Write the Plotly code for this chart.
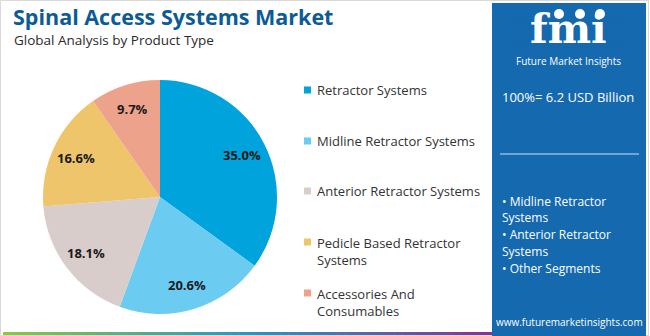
import math
import plotly.graph_objects as go

# Market share by product type (%)
segments = [
    "Retractor Systems",
    "Midline Retractor Systems",
    "Anterior Retractor Systems",
    "Pedicle Based Retractor Systems",
    "Accessories And Consumables",
]
legend_lines = [
    "Retractor Systems",
    "Midline Retractor Systems",
    "Anterior Retractor Systems",
    "Pedicle Based Retractor<br>Systems",
    "Accessories And<br>Consumables",
]
shares = [35.0, 20.6, 18.1, 16.6, 9.7]
colors = ["#00a3dc", "#6ccbf0", "#d8cdca", "#eec56b", "#eca28b"]

title = "Spinal Access Systems Market"
subtitle = "Global Analysis by Product Type"
total_text = "100%= 6.2 USD Billion"
side_lines = ["• Midline Retractor", "Systems", "• Anterior Retractor", "Systems", "• Other Segments"]
website = "www.futuremarketinsights.com"

W, H = 650, 336
FONT = "Open Sans"

# pie geometry in pixels
PIE_CX, PIE_CY, PIE_R = 160, 197, 117
LABEL_R = 0.79 * PIE_R


def fx(p):
    return p / W


def fy(p):
    return 1 - p / H


fig = go.Figure()

fig.add_trace(go.Pie(
    labels=segments,
    values=shares,
    sort=False,
    direction="clockwise",
    rotation=0,
    marker=dict(colors=colors, line=dict(width=0)),
    textinfo="none",
    domain=dict(x=[fx(PIE_CX - PIE_R), fx(PIE_CX + PIE_R)],
                y=[fy(PIE_CY + PIE_R), fy(PIE_CY - PIE_R)]),
    showlegend=False,
    hoverinfo="label+value",
))

shapes = []
annotations = []

# percentage labels placed at each slice's mid-angle
total = sum(shares)
cum = 0.0
for v in shares:
    mid = (cum + v / 2) / total * 2 * math.pi
    cum += v
    lx = PIE_CX + LABEL_R * math.sin(mid)
    ly = PIE_CY - LABEL_R * math.cos(mid)
    annotations.append(dict(text="<b>%.1f%%</b>" % v, xref="paper", yref="paper",
                            x=fx(lx), y=fy(ly), xanchor="center", yanchor="middle",
                            showarrow=False,
                            font=dict(family=FONT, size=13, color="#1a1a1a")))

# outer frame
shapes.append(dict(type="rect", xref="paper", yref="paper",
                   x0=fx(0.5), x1=fx(648.5), y0=fy(335.5), y1=fy(0.5),
                   line=dict(color="#d9d9d9", width=1), fillcolor="rgba(0,0,0,0)", layer="below"))

# bottom gradient strip (green -> blue -> purple)
stops = [(0.0, (141, 198, 63)), (0.5, (40, 150, 200)), (1.0, (140, 50, 150))]
n = 60
x_start, x_end = 3, 492
for i in range(n):
    t = i / (n - 1)
    for (t0, c0), (t1, c1) in zip(stops[:-1], stops[1:]):
        if t0 <= t <= t1:
            u = (t - t0) / (t1 - t0)
            c = tuple(int(c0[k] + (c1[k] - c0[k]) * u) for k in range(3))
            break
    xa = x_start + (x_end - x_start) * i / n
    xb = x_start + (x_end - x_start) * (i + 1) / n + 0.5
    shapes.append(dict(type="rect", xref="paper", yref="paper",
                       x0=fx(xa), x1=fx(xb), y0=fy(335), y1=fy(332),
                       line=dict(width=0), fillcolor="rgb(%d,%d,%d)" % c))

# right info panel
shapes.append(dict(type="rect", xref="paper", yref="paper",
                   x0=fx(492), x1=fx(646), y0=fy(336), y1=fy(3),
                   line=dict(width=0), fillcolor="#1569ae"))
shapes.append(dict(type="line", xref="paper", yref="paper",
                   x0=fx(500), x1=fx(639), y0=fy(154), y1=fy(154),
                   line=dict(color="#8fb8dc", width=1.5)))

# title and subtitle
annotations.append(dict(text="<b>" + title + "</b>", xref="paper", yref="paper",
                        x=fx(11), y=fy(16), xanchor="left", yanchor="middle", showarrow=False,
                        font=dict(family=FONT, size=21.5, color="#0c5b96")))
annotations.append(dict(text=subtitle, xref="paper", yref="paper",
                        x=fx(12), y=fy(40), xanchor="left", yanchor="middle", showarrow=False,
                        font=dict(family=FONT, size=13.5, color="#2b2b2b")))

# legend
legend_y = [90, 141, 191, 251, 302]
for name, col, yy in zip(legend_lines, colors, legend_y):
    my = yy if "<br>" not in name else yy - 9
    shapes.append(dict(type="rect", xref="paper", yref="paper",
                       x0=fx(304), x1=fx(311), y0=fy(my + 3.5), y1=fy(my - 3.5),
                       line=dict(width=0), fillcolor=col))
    annotations.append(dict(text=name, xref="paper", yref="paper",
                            x=fx(315), y=fy(yy), xanchor="left", yanchor="middle", align="left",
                            showarrow=False,
                            font=dict(family=FONT, size=13, color="#333333")))

# logo
annotations.append(dict(text="<b>fmi</b>", xref="paper", yref="paper",
                        x=fx(568), y=fy(29), xanchor="center", yanchor="middle", showarrow=False,
                        font=dict(family="DejaVu Serif", size=41, color="white")))
for yy in range(14, 50, 3):
    shapes.append(dict(type="line", xref="paper", yref="paper",
                       x0=fx(512), x1=fx(626), y0=fy(yy), y1=fy(yy),
                       line=dict(color="#1569ae", width=1)))
for cx in (559, 580, 600):
    shapes.append(dict(type="circle", xref="paper", yref="paper",
                       x0=fx(cx - 5), x1=fx(cx + 5), y0=fy(19), y1=fy(9),
                       line=dict(width=0), fillcolor="white"))
annotations.append(dict(text="Future Market Insights", xref="paper", yref="paper",
                        x=fx(568), y=fy(61), xanchor="center", yanchor="middle", showarrow=False,
                        font=dict(family=FONT, size=10, color="white")))

annotations.append(dict(text=total_text, xref="paper", yref="paper",
                        x=fx(500), y=fy(97), xanchor="left", yanchor="middle", showarrow=False,
                        font=dict(family=FONT, size=13, color="white")))
for k, line in enumerate(side_lines):
    annotations.append(dict(text=line, xref="paper", yref="paper",
                            x=fx(500), y=fy(201 + 16.75 * k), xanchor="left", yanchor="middle",
                            showarrow=False,
                            font=dict(family=FONT, size=12, color="white")))
annotations.append(dict(text=website, xref="paper", yref="paper",
                        x=fx(569), y=fy(322), xanchor="center", yanchor="middle", showarrow=False,
                        font=dict(family=FONT, size=10, color="white")))

fig.update_layout(
    width=W, height=H,
    margin=dict(l=0, r=0, t=0, b=0),
    paper_bgcolor="white",
    plot_bgcolor="white",
    shapes=shapes,
    annotations=annotations,
)

fig.write_html("out.html")
